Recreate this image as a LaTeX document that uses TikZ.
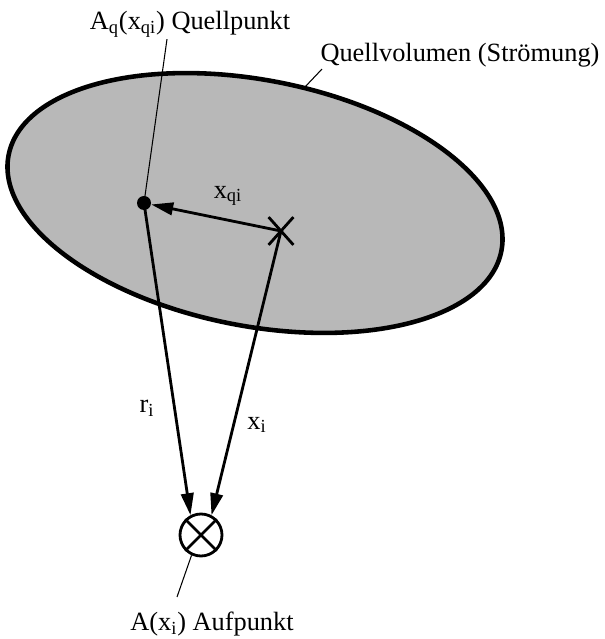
\documentclass[tikz,border=0pt]{standalone}
\usepackage{fontspec}
\setmainfont{Liberation Serif}
\usetikzlibrary{arrows.meta,shapes.misc}

\begin{document}
\begin{tikzpicture}[
    vec/.style={line width=1.6pt, -{Triangle[length=0.44cm,width=0.25cm]}},
    leader/.style={line width=0.6pt},
    lbl/.style={font=\fontsize{15}{18}\selectfont, inner sep=1pt}
]
    \useasboundingbox (0,0) rectangle (12.08,12.78);

    % Draw the source volume
    \begin{scope}[shift={(5.1,8.72)}, rotate=-11]
        \draw[line width=2.6pt, fill=black!28] (0,0) ellipse (5.02cm and 2.46cm);
        \coordinate (rim) at (84:5.02cm and 2.46cm);
    \end{scope}

    % Source point, centre cross and observer point
    \node[circle, fill, inner sep=0pt, minimum size=0.28cm] (qp) at (2.88,8.72) {};
    \node[cross out, draw, line width=1.6pt, inner sep=0pt, minimum width=0.44cm, minimum height=0.5cm] (ax) at (5.62,8.16) {};
    \node[circle, draw, line width=1.6pt, inner sep=0pt, minimum size=0.84cm] (auf) at (4.02,2.08) {};
    \draw[line width=1.6pt] (auf.45) -- (auf.225);
    \draw[line width=1.6pt] (auf.135) -- (auf.-45);

    % Label the points
    \node[lbl] (qpl) at (3.8,12.3) {A\textsubscript{q}(x\textsubscript{qi}) Quellpunkt};
    \node[lbl] (qvl) at (9.2,11.68) {Quellvolumen (Strömung)};
    \node[lbl] (aufl) at (4.24,0.3) {A(x\textsubscript{i}) Aufpunkt};
    \coordinate (aufe) at (3.54,0.84);
    \draw[leader] ([xshift=-0.46cm]qpl.south) -- (qp.center);
    \draw[leader] ([xshift=2pt]qvl.south west) -- (rim);
    \draw[leader] (auf.245) -- (aufe);

    % Draw the vectors
    \draw[vec] (ax.center) -- (qp);
    \draw[vec] (qp.center) -- (auf.118);
    \draw[vec] (ax.center) -- (auf.62);
    \node[lbl] (xqi) at (4.56,8.86) {x\textsubscript{qi}};
    \node[lbl] (ri) at (2.94,4.62) {r\textsubscript{i}};
    \node[lbl] (xi) at (5.14,4.28) {x\textsubscript{i}};

\end{tikzpicture}
\end{document}
